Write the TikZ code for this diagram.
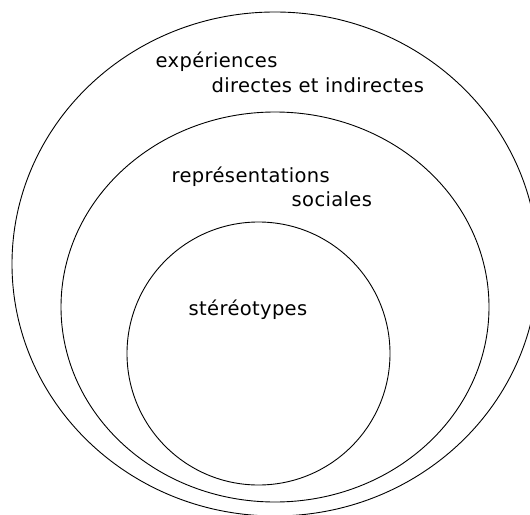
\documentclass[tikz,border=0pt]{standalone}
\usepackage{fontspec}
\setmainfont{DejaVu Sans}[LetterSpace=1.8]
\usetikzlibrary{shapes.geometric}
\tikzset{
  ring/.style={draw=black, line width=0.9bp, ellipse, inner sep=0pt},
  lbl/.style={anchor=base west, inner sep=0pt, font=\fontsize{19.5bp}{23bp}\selectfont, text=black}
}
\begin{document}
\begin{tikzpicture}[x=1bp, y=-1bp]
\useasboundingbox (0,0) rectangle (530,515);
\clip (0,0) rectangle (530,515);
\fill[white] (0,0) rectangle (530,515);
\node[ring, minimum width=526bp, minimum height=504bp] (outer) at (275,264) {};
\node[ring, minimum width=428bp, minimum height=390bp] (middle) at (275,307) {};
\node[ring, minimum width=263bp, minimum height=263bp] (inner) at (258.5,353.5) {};
\node[lbl] (exp) at (155.5,67.3) {expériences};
\node[lbl] (dir) at (211.5,92.3) {directes et indirectes};
\node[lbl] (rep) at (171.5,182.5) {représentations};
\node[lbl] (soc) at (291.5,206.5) {sociales};
\node[lbl] (ste) at (188.5,315) {stéréotypes};
\end{tikzpicture}
\end{document}
